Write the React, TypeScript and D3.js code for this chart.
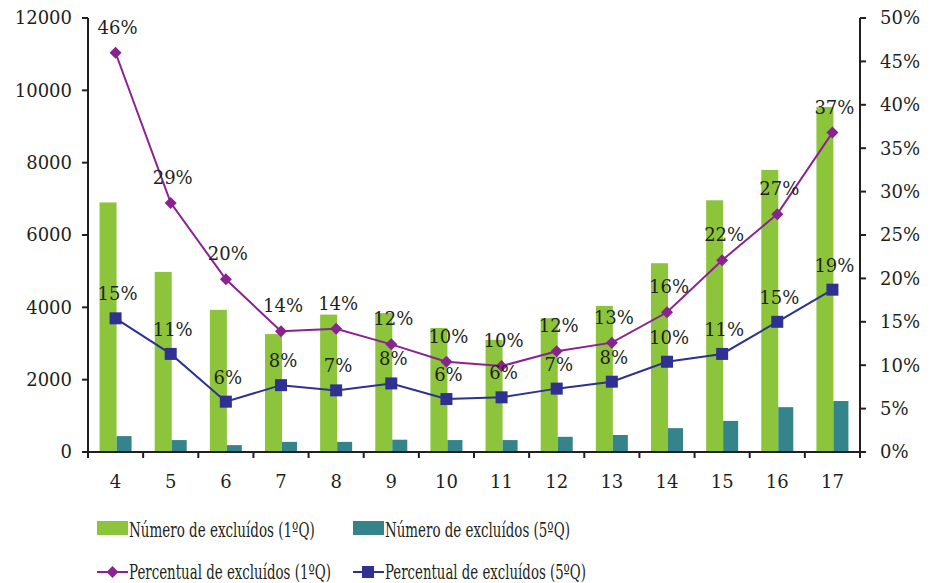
import React, { useRef, useLayoutEffect, useState } from "react";
import { scaleBand, scaleLinear, line, range } from "d3";

const categories = ["4", "5", "6", "7", "8", "9", "10", "11", "12", "13", "14", "15", "16", "17"];
const excluidos1Q = [6900, 4980, 3930, 3260, 3800, 3840, 3430, 3100, 3700, 4040, 5220, 6960, 7800, 9540];
const excluidos5Q = [440, 330, 190, 280, 280, 340, 330, 330, 420, 470, 660, 860, 1240, 1410];
const percentual1Q = [46.0, 28.7, 19.9, 13.9, 14.2, 12.4, 10.4, 9.9, 11.6, 12.6, 16.1, 22.1, 27.4, 36.8];
const percentual5Q = [15.4, 11.3, 5.8, 7.7, 7.1, 7.9, 6.1, 6.3, 7.3, 8.1, 10.4, 11.3, 15.0, 18.7];
const leftTicks = [0, 2000, 4000, 6000, 8000, 10000, 12000];
const rightTicks = [0, 5, 10, 15, 20, 25, 30, 35, 40, 45, 50];
const legendLabels = [
  "Número de excluídos (1ºQ)",
  "Número de excluídos (5ºQ)",
  "Percentual de excluídos (1ºQ)",
  "Percentual de excluídos (5ºQ)",
];

const GREEN = "#8cc43c";
const TEAL = "#35848c";
const PURPLE = "#8b2291";
const BLUE = "#2e3192";
const INK = "#231f20";
const FONT = "'DejaVu Serif', serif";

// text squeezed horizontally to a given width (the legend uses a condensed face)
function SqueezedText({ x, y, w, children }: { x: number; y: number; w: number; children: string }) {
  const ref = useRef<SVGTextElement>(null);
  const [k, setK] = useState(1);
  useLayoutEffect(() => {
    if (ref.current) {
      const natural = ref.current.getComputedTextLength();
      if (natural > 0) setK(w / natural);
    }
  }, [w, children]);
  return (
    <text ref={ref} transform={`translate(${x},${y}) scale(${k},1)`}>
      {children}
    </text>
  );
}

export default function App() {
  const width = 933;
  const height = 583;
  const left = 88;
  const right = 860;
  const top = 18;
  const bottom = 452;

  const x = scaleBand<string>().domain(categories).range([left, right]);
  const yLeft = scaleLinear().domain([0, 12000]).range([bottom, top]);
  const yRight = scaleLinear().domain([0, 50]).range([bottom, top]);
  const cx = (i: number) => (x(categories[i]) as number) + x.bandwidth() / 2;

  const path1 = line<number>()
    .x((_, i) => cx(i))
    .y((d) => yRight(d))(percentual1Q);
  const path5 = line<number>()
    .x((_, i) => cx(i))
    .y((d) => yRight(d))(percentual5Q);

  const diamond = (px: number, py: number, r: number) =>
    `M${px},${py - r}L${px + r},${py}L${px},${py + r}L${px - r},${py}Z`;

  return (
    <svg width={width} height={height} style={{ display: "block", position: "absolute", left: 0, top: 0 }}>
      <rect width={width} height={height} fill="#fff" />

      {/* bars */}
      {excluidos1Q.map((v, i) => (
        <rect key={"g" + i} x={cx(i) - 16} y={yLeft(v)} width={17} height={bottom - yLeft(v)} fill={GREEN} />
      ))}
      {excluidos5Q.map((v, i) => (
        <rect key={"t" + i} x={cx(i) + 1} y={yLeft(v)} width={15} height={bottom - yLeft(v)} fill={TEAL} />
      ))}

      {/* lines */}
      <path d={path1 || ""} fill="none" stroke={PURPLE} strokeWidth={2} />
      <path d={path5 || ""} fill="none" stroke={BLUE} strokeWidth={2} />
      {percentual1Q.map((v, i) => (
        <path key={"d" + i} d={diamond(cx(i), yRight(v), 6)} fill={PURPLE} />
      ))}
      {percentual5Q.map((v, i) => (
        <rect key={"s" + i} x={cx(i) - 6} y={yRight(v) - 6} width={12} height={12} fill={BLUE} />
      ))}

      {/* data labels */}
      <g fontFamily={FONT} fontSize={18} fill={INK} textAnchor="middle">
        {percentual1Q.map((v, i) => (
          <text key={"l1" + i} x={cx(i) + 2} y={yRight(v) - 19}>
            {Math.round(v)}%
          </text>
        ))}
        {percentual5Q.map((v, i) => (
          <text key={"l5" + i} x={cx(i) + 2} y={yRight(v) - 18}>
            {Math.round(v)}%
          </text>
        ))}
      </g>

      {/* axes */}
      <g stroke={INK} strokeWidth={2}>
        <line x1={left} x2={left} y1={top} y2={bottom} />
        <line x1={right} x2={right} y1={top} y2={bottom} />
        <line x1={left} x2={right} y1={bottom} y2={bottom} />
        {leftTicks.map((t) => (
          <line key={"lt" + t} x1={left - 6} x2={left} y1={yLeft(t)} y2={yLeft(t)} />
        ))}
        {rightTicks.map((t) => (
          <line key={"rt" + t} x1={right} x2={right + 6} y1={yRight(t)} y2={yRight(t)} />
        ))}
        {range(categories.length + 1).map((i) => (
          <line key={"bt" + i} x1={left + i * x.step()} x2={left + i * x.step()} y1={bottom} y2={bottom + 6} />
        ))}
      </g>
      <g fontFamily={FONT} fontSize={18} fill={INK}>
        {leftTicks.map((t) => (
          <text key={"ll" + t} x={72} y={yLeft(t)} dy="0.35em" textAnchor="end">
            {t}
          </text>
        ))}
        {rightTicks.map((t) => (
          <text key={"rl" + t} x={880} y={yRight(t)} dy="0.35em" textAnchor="start">
            {t}%
          </text>
        ))}
        {categories.map((c, i) => (
          <text key={"xl" + c} x={cx(i)} y={488} textAnchor="middle">
            {c}
          </text>
        ))}
      </g>

      {/* legend */}
      <g fontFamily={FONT} fontSize={21} fill={INK}>
        <rect x={97} y={521} width={31} height={14} fill={GREEN} />
        <SqueezedText x={129} y={537} w={186}>{legendLabels[0]}</SqueezedText>
        <rect x={353} y={521} width={31} height={14} fill={TEAL} />
        <SqueezedText x={385} y={537} w={185}>{legendLabels[1]}</SqueezedText>

        <line x1={97} x2={128} y1={572} y2={572} stroke={PURPLE} strokeWidth={2} />
        <path d={diamond(112.5, 572, 6)} fill={PURPLE} />
        <SqueezedText x={129} y={579} w={202}>{legendLabels[2]}</SqueezedText>
        <line x1={353} x2={384} y1={572} y2={572} stroke={BLUE} strokeWidth={2} />
        <rect x={362} y={566} width={12} height={12} fill={BLUE} />
        <SqueezedText x={385} y={579} w={201}>{legendLabels[3]}</SqueezedText>
      </g>
    </svg>
  );
}
